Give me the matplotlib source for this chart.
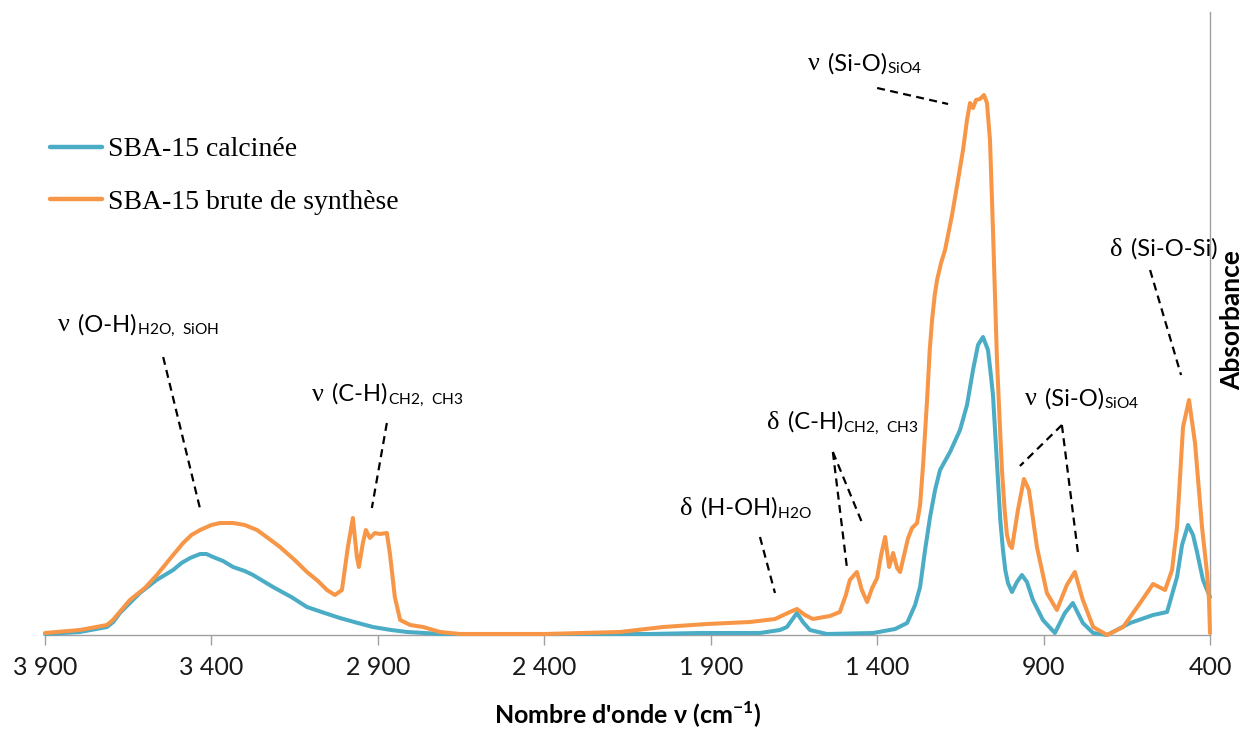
import matplotlib
matplotlib.use('Agg')
import matplotlib.pyplot as plt
from matplotlib.offsetbox import TextArea, HPacker, AnnotationBbox

# ---------------- data ----------------
wn_calcinee = [3900, 3795, 3714, 3695, 3675, 3615, 3565, 3515, 3490, 3464, 3434, 3415, 3395,
               3365, 3335, 3300, 3275, 3215, 3160, 3113, 3060, 3014, 2960, 2915, 2860, 2812,
               2760, 2713, 2398, 2082, 1932, 1752, 1692, 1671, 1641, 1623, 1602, 1551, 1412,
               1346, 1310, 1286, 1271, 1256, 1241, 1226, 1211, 1181, 1151, 1130, 1112, 1097,
               1082, 1067, 1060, 1052, 1045, 1037, 1030, 1022, 1015, 1007, 995, 980, 965, 950,
               932, 902, 866, 836, 812, 782, 751, 709, 640, 571, 529, 499, 484, 466, 451, 439,
               421, 400]
abs_calcinee = [0.001, 0.003, 0.008, 0.013, 0.022, 0.042, 0.055, 0.065, 0.072, 0.077, 0.081, 0.081, 0.078,
                0.074, 0.068, 0.064, 0.060, 0.048, 0.038, 0.028, 0.022, 0.017, 0.012, 0.008, 0.005, 0.003,
                0.002, 0.001, 0.001, 0.001, 0.002, 0.002, 0.005, 0.008, 0.022, 0.013, 0.005, 0.001, 0.002,
                0.006, 0.012, 0.030, 0.048, 0.085, 0.118, 0.145, 0.165, 0.183, 0.205, 0.230, 0.265, 0.290,
                0.298, 0.285, 0.265, 0.240, 0.200, 0.155, 0.115, 0.085, 0.065, 0.052, 0.043, 0.053, 0.060, 0.053,
                0.035, 0.015, 0.002, 0.022, 0.032, 0.012, 0.002, 0.000, 0.012, 0.020, 0.023, 0.058, 0.090, 0.110,
                0.100, 0.083, 0.055, 0.038]

wn_brute = [3900, 3795, 3714, 3696, 3645, 3600, 3564, 3520, 3485, 3460, 3434, 3400, 3374, 3335,
            3300, 3263, 3230, 3194, 3150, 3113, 3080, 3053, 3029, 3008, 2990, 2975, 2963, 2957,
            2945, 2936, 2924, 2909, 2894, 2873, 2864, 2849, 2833, 2803, 2764, 2713, 2653, 2398,
            2173, 2043, 1911, 1782, 1707, 1662, 1641, 1617, 1593, 1542, 1512, 1494, 1482, 1461,
            1446, 1430, 1415, 1400, 1388, 1376, 1364, 1352, 1340, 1331, 1319, 1307, 1295, 1280,
            1271, 1262, 1250, 1242, 1235, 1227, 1220, 1208, 1196, 1175, 1157, 1142, 1130, 1121,
            1112, 1103, 1091, 1079, 1070, 1061, 1052, 1046, 1040, 1032, 1025, 1017, 1010, 1002,
            995, 977, 959, 944, 920, 890, 860, 830, 806, 782, 751, 709, 661, 610, 571, 535, 514,
            499, 481, 463, 445, 424, 409, 403, 400]
abs_brute = [0.002, 0.005, 0.010, 0.015, 0.035, 0.047, 0.060, 0.078, 0.092, 0.100, 0.105, 0.110, 0.112, 0.112,
             0.110, 0.105, 0.097, 0.088, 0.075, 0.063, 0.054, 0.045, 0.040, 0.045, 0.088, 0.117, 0.078, 0.068,
             0.092, 0.105, 0.097, 0.102, 0.101, 0.102, 0.082, 0.038, 0.015, 0.010, 0.008, 0.003, 0.001, 0.001,
             0.003, 0.008, 0.011, 0.013, 0.016, 0.023, 0.026, 0.020, 0.016, 0.019, 0.023, 0.040, 0.055, 0.063,
             0.045, 0.033, 0.047, 0.057, 0.080, 0.098, 0.068, 0.082, 0.067, 0.063, 0.080, 0.097, 0.107, 0.112,
             0.130, 0.170, 0.235, 0.285, 0.315, 0.340, 0.355, 0.372, 0.385, 0.420, 0.455, 0.485, 0.515, 0.532,
             0.527, 0.535, 0.536, 0.540, 0.532, 0.495, 0.405, 0.340, 0.275, 0.215, 0.165, 0.125, 0.100, 0.090,
             0.087, 0.125, 0.156, 0.145, 0.088, 0.042, 0.025, 0.050, 0.063, 0.035, 0.008, 0.000, 0.008, 0.032,
             0.051, 0.045, 0.065, 0.108, 0.208, 0.235, 0.192, 0.108, 0.062, 0.035, 0.002]

xticks = [3900, 3400, 2900, 2400, 1900, 1400, 900, 400]
xtick_labels = ['3 900', '3 400', '2 900', '2 400', '1 900', '1 400', '900', '400']
series_labels = ['SBA-15 calcinée', 'SBA-15 brute de synthèse']

# annotations: (greek, text, subscript, x, y)
annotations = [
    ('ν', '(O-H)', 'H2O,\\ SiOH', 3861, 0.296),
    ('ν', '(C-H)', 'CH2,\\ CH3', 3098, 0.226),
    ('δ', '(H-OH)', 'H2O', 1992, 0.114),
    ('δ', '(C-H)', 'CH2,\\ CH3', 1731, 0.198),
    ('ν', '(Si-O)', 'SiO4', 1608, 0.559),
    ('δ', '(Si-O-Si)', '', 700, 0.374),
    ('ν', '(Si-O)', 'SiO4', 956, 0.224),
]
# leader lines: ((x0, y0), (x1, y1))
leaders = [
    ((3545, 0.278), (3434, 0.126)),
    ((2873, 0.212), (2918, 0.127)),
    ((1752, 0.098), (1707, 0.042)),
    ((1533, 0.183), (1491, 0.068)),
    ((1533, 0.183), (1445, 0.112)),
    ((1400, 0.547), (1187, 0.531)),
    ((580, 0.365), (487, 0.260)),
    ((845, 0.210), (971, 0.169)),
    ((845, 0.210), (797, 0.083)),
]

SANS = 'Lato'
BLUE = '#4BACC6'
ORANGE = '#F79646'

fig = plt.figure(figsize=(12.44, 7.33), dpi=100)
ax = fig.add_axes([45 / 1244, 1 - 635 / 733, 1165 / 1244, 623 / 733])

ax.plot(wn_calcinee, abs_calcinee, color=BLUE, lw=2.9, solid_joinstyle='round',
        solid_capstyle='round', label=series_labels[0], clip_on=False, zorder=3)
ax.plot(wn_brute, abs_brute, color=ORANGE, lw=2.9, solid_joinstyle='round',
        solid_capstyle='round', label=series_labels[1], clip_on=False, zorder=4)

ax.set_xlim(3900, 400)
ax.set_ylim(0, 0.623)

for side in ('left', 'top'):
    ax.spines[side].set_visible(False)
for side in ('bottom', 'right'):
    ax.spines[side].set_color('#A0A0A0')
    ax.spines[side].set_linewidth(1.0)

ax.set_xticks(xticks)
ax.set_xticklabels(xtick_labels, fontfamily=SANS, fontsize=18, color='#1a1a1a')
ax.tick_params(axis='x', direction='out', length=7, width=1.0, color='#A0A0A0', pad=8)
ax.set_yticks([])

ax.set_xlabel("Nombre d'onde ν (cm$^{\\mathregular{-1}}$)", fontfamily=SANS,
              fontsize=18, fontweight='bold', color='black')
ax.xaxis.set_label_coords(0.5, -(715 - 635) / 623)
ax.xaxis.label.set_va('center')

ax.yaxis.set_label_position('right')
ax.set_ylabel('Absorbance', fontfamily=SANS, fontsize=19, fontweight='bold',
              rotation=90, color='black')
ax.yaxis.set_label_coords((1232 - 45) / 1165, 0.506)
ax.yaxis.label.set_va('center')
ax.yaxis.label.set_ha('center')

leg = ax.legend(loc='upper left', bbox_to_anchor=(50 / 1244, 1 - 137 / 733),
                bbox_transform=fig.transFigure, frameon=False, borderpad=0,
                borderaxespad=0, handlelength=1.87, handletextpad=0.2,
                labelspacing=0.98, prop={'family': 'Liberation Serif', 'size': 20})
for h in leg.get_lines():
    h.set_linewidth(3.2)

for (x0, y0), (x1, y1) in leaders:
    ax.plot([x0, x1], [y0, y1], color='black', lw=1.6, linestyle=(0, (3.6, 2.4)),
            clip_on=False, zorder=5)

for greek, txt, sub, x, y in annotations:
    parts = [TextArea(greek, textprops=dict(family='Liberation Serif', size=19, color='black')),
             TextArea(txt, textprops=dict(family=SANS, size=17, color='black'))]
    if sub:
        parts.append(TextArea('$_{\\mathregular{%s}}$' % sub,
                              textprops=dict(family=SANS, size=16, color='black')))
    box = HPacker(children=parts[:1] + [HPacker(children=parts[1:], align='baseline', pad=0, sep=0)],
                  align='baseline', pad=0, sep=6)
    ab = AnnotationBbox(box, (x, y), xycoords='data', box_alignment=(0, 0),
                        frameon=False, pad=0, annotation_clip=False)
    ax.add_artist(ab)

fig.savefig('out.png', dpi=100)
